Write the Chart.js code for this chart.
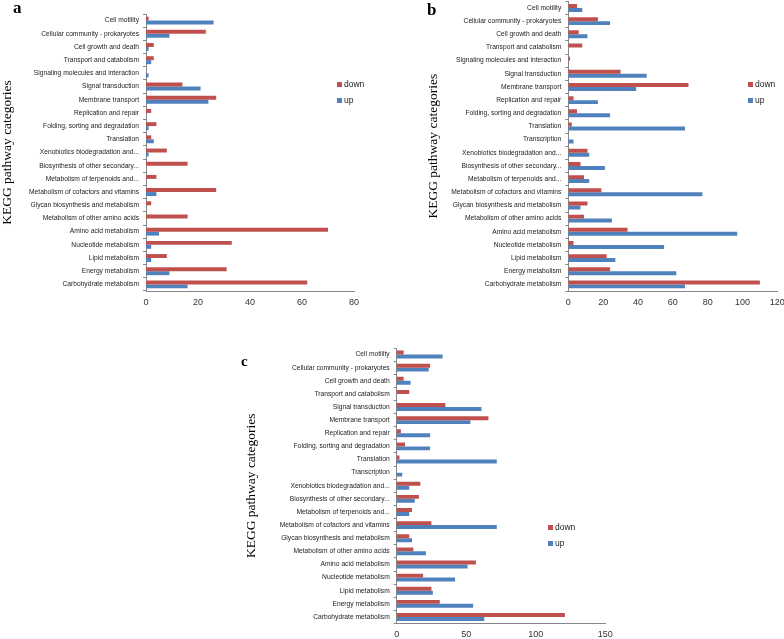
<!DOCTYPE html>
<html>
<head>
<meta charset="utf-8">
<script src="https://cdn.jsdelivr.net/npm/chart.js@4.4.0/dist/chart.umd.min.js"></script>
<style>
body{margin:0;width:784px;height:639px;background:#fff;position:relative;overflow:hidden;}
canvas{position:absolute;}
.letter{position:absolute;font-family:'Liberation Serif',serif;font-weight:bold;line-height:1;color:#000;}
.sq{position:absolute;width:5px;height:5px;}
.lt{position:absolute;font:8.5px 'Liberation Sans',sans-serif;color:#222;line-height:10px;}
</style>
</head>
<body>
<canvas id="chartA" width="362" height="311" style="left:-1px;top:0px"></canvas>
<canvas id="chartB" width="389" height="311" style="left:395px;top:0px"></canvas>
<canvas id="chartC" width="370" height="319" style="left:243px;top:320px"></canvas>

<div class="letter" style="left:13px;top:-1px;font-size:17px">a</div>
<div class="letter" style="left:427px;top:1px;font-size:17px">b</div>
<div class="letter" style="left:241px;top:354px;font-size:15px">c</div>

<div class="sq" style="left:337px;top:82px;background:#C0504D"></div><div class="lt" style="left:344px;top:79px">down</div>
<div class="sq" style="left:337px;top:98px;background:#4F81BD"></div><div class="lt" style="left:344px;top:95px">up</div>
<div class="sq" style="left:748px;top:82px;background:#C0504D"></div><div class="lt" style="left:755px;top:79px">down</div>
<div class="sq" style="left:748px;top:98px;background:#4F81BD"></div><div class="lt" style="left:755px;top:95px">up</div>
<div class="sq" style="left:548px;top:525px;background:#C0504D"></div><div class="lt" style="left:555px;top:522px">down</div>
<div class="sq" style="left:548px;top:541px;background:#4F81BD"></div><div class="lt" style="left:555px;top:538px">up</div>

<script>
// категории и значения для трёх панелей
const labelsA = ['Cell motility', 'Cellular community - prokaryotes', 'Cell growth and death', 'Transport and catabolism',
  'Signaling molecules and interaction', 'Signal transduction', 'Membrane transport', 'Replication and repair',
  'Folding, sorting and degradation', 'Translation', 'Xenobiotics biodegradation and...', 'Biosynthesis of other secondary...',
  'Metabolism of terpenoids and...', 'Metabolism of cofactors and vitamins', 'Glycan biosynthesis and metabolism',
  'Metabolism of other amino acids', 'Amino acid metabolism', 'Nucleotide metabolism', 'Lipid metabolism',
  'Energy metabolism', 'Carbohydrate metabolism'];
const downA = [1, 23, 3, 3, 0, 14, 27, 2, 4, 2, 8, 16, 4, 27, 2, 16, 70, 33, 8, 31, 62];
const upA = [26, 9, 1, 2, 1, 21, 24, 0, 1, 3, 1, 0, 0, 4, 0, 0, 5, 2, 2, 9, 16];

const labelsB = ['Cell motility', 'Cellular community - prokaryotes', 'Cell growth and death', 'Transport and catabolism',
  'Signaling molecules and interaction', 'Signal transduction', 'Membrane transport', 'Replication and repair',
  'Folding, sorting and degradation', 'Translation', 'Transcription', 'Xenobiotics biodegradation and...',
  'Biosynthesis of other secondary...', 'Metabolism of terpenoids and...', 'Metabolism of cofactors and vitamins',
  'Glycan biosynthesis and metabolism', 'Metabolism of other amino acids', 'Amino acid metabolism',
  'Nucleotide metabolism', 'Lipid metabolism', 'Energy metabolism', 'Carbohydrate metabolism'];
const downB = [5, 17, 6, 8, 1, 30, 69, 3, 5, 2, 0, 11, 7, 9, 19, 11, 9, 34, 3, 22, 24, 110];
const upB = [8, 24, 11, 0, 0, 45, 39, 17, 24, 67, 3, 12, 21, 12, 77, 7, 25, 97, 55, 27, 62, 67];

const labelsC = ['Cell motility', 'Cellular community - prokaryotes', 'Cell growth and death', 'Transport and catabolism',
  'Signal transduction', 'Membrane transport', 'Replication and repair', 'Folding, sorting and degradation',
  'Translation', 'Transcription', 'Xenobiotics biodegradation and...', 'Biosynthesis of other secondary...',
  'Metabolism of terpenoids and...', 'Metabolism of cofactors and vitamins', 'Glycan biosynthesis and metabolism',
  'Metabolism of other amino acids', 'Amino acid metabolism', 'Nucleotide metabolism', 'Lipid metabolism',
  'Energy metabolism', 'Carbohydrate metabolism'];
const downC = [5, 24, 5, 9, 35, 66, 3, 6, 2, 0, 17, 16, 11, 25, 9, 12, 57, 19, 25, 31, 121];
const upC = [33, 23, 10, 0, 61, 53, 24, 24, 72, 4, 9, 13, 9, 72, 11, 21, 51, 42, 26, 55, 63];

const axisGrey = '#868686';

function makeChart(id, labels, down, up, xMax, xStep, pad, yWidth, xHeight){ // одна панель
  return new Chart(document.getElementById(id), {
    type: 'bar',
    data: {
      labels: labels,
      datasets: [
        {label: 'down', data: down, backgroundColor: '#C0504D'},
        {label: 'up', data: up, backgroundColor: '#4F81BD'}
      ]
    },
    options: {
      indexAxis: 'y',
      responsive: false,
      animation: false,
      layout: {padding: pad},
      datasets: {bar: {categoryPercentage: 0.6, barPercentage: 1}},
      plugins: {legend: {display: false}, tooltip: {enabled: false}},
      scales: {
        x: {
          min: 0, max: xMax,
          ticks: {stepSize: xStep, padding: 6, color: '#333', font: {family: 'Liberation Sans', size: 9}},
          grid: {display: false, drawTicks: false},
          border: {display: true, color: axisGrey},
          afterFit: function(s){ s.height = xHeight; s.paddingLeft = 0; s.paddingRight = 0; }
        },
        y: {
          ticks: {autoSkip: false, padding: 4, color: '#222', font: {family: 'Liberation Sans', size: 6.7}},
          grid: {drawOnChartArea: false, drawTicks: true, tickLength: 3, color: axisGrey},
          border: {display: true, color: axisGrey},
          title: {display: true, text: 'KEGG pathway categories', color: '#000', padding: 0,
                  font: {family: 'Liberation Serif', size: 13.5}},
          afterFit: function(s){ s.width = yWidth; s.paddingTop = 0; s.paddingBottom = 0; }
        }
      }
    }
  });
}

makeChart('chartA', labelsA, downA, upA, 80, 20, {left: 0, top: 14, right: 7, bottom: 0}, 147, 20);
makeChart('chartB', labelsB, downB, upB, 120, 20, {left: 30, top: 1.4, right: 6.7, bottom: 0}, 143.3, 20);
makeChart('chartC', labelsC, downC, upC, 150, 50, {left: 0, top: 28, right: 7.8, bottom: 0}, 153.7, 15.5);
</script>
</body>
</html>
